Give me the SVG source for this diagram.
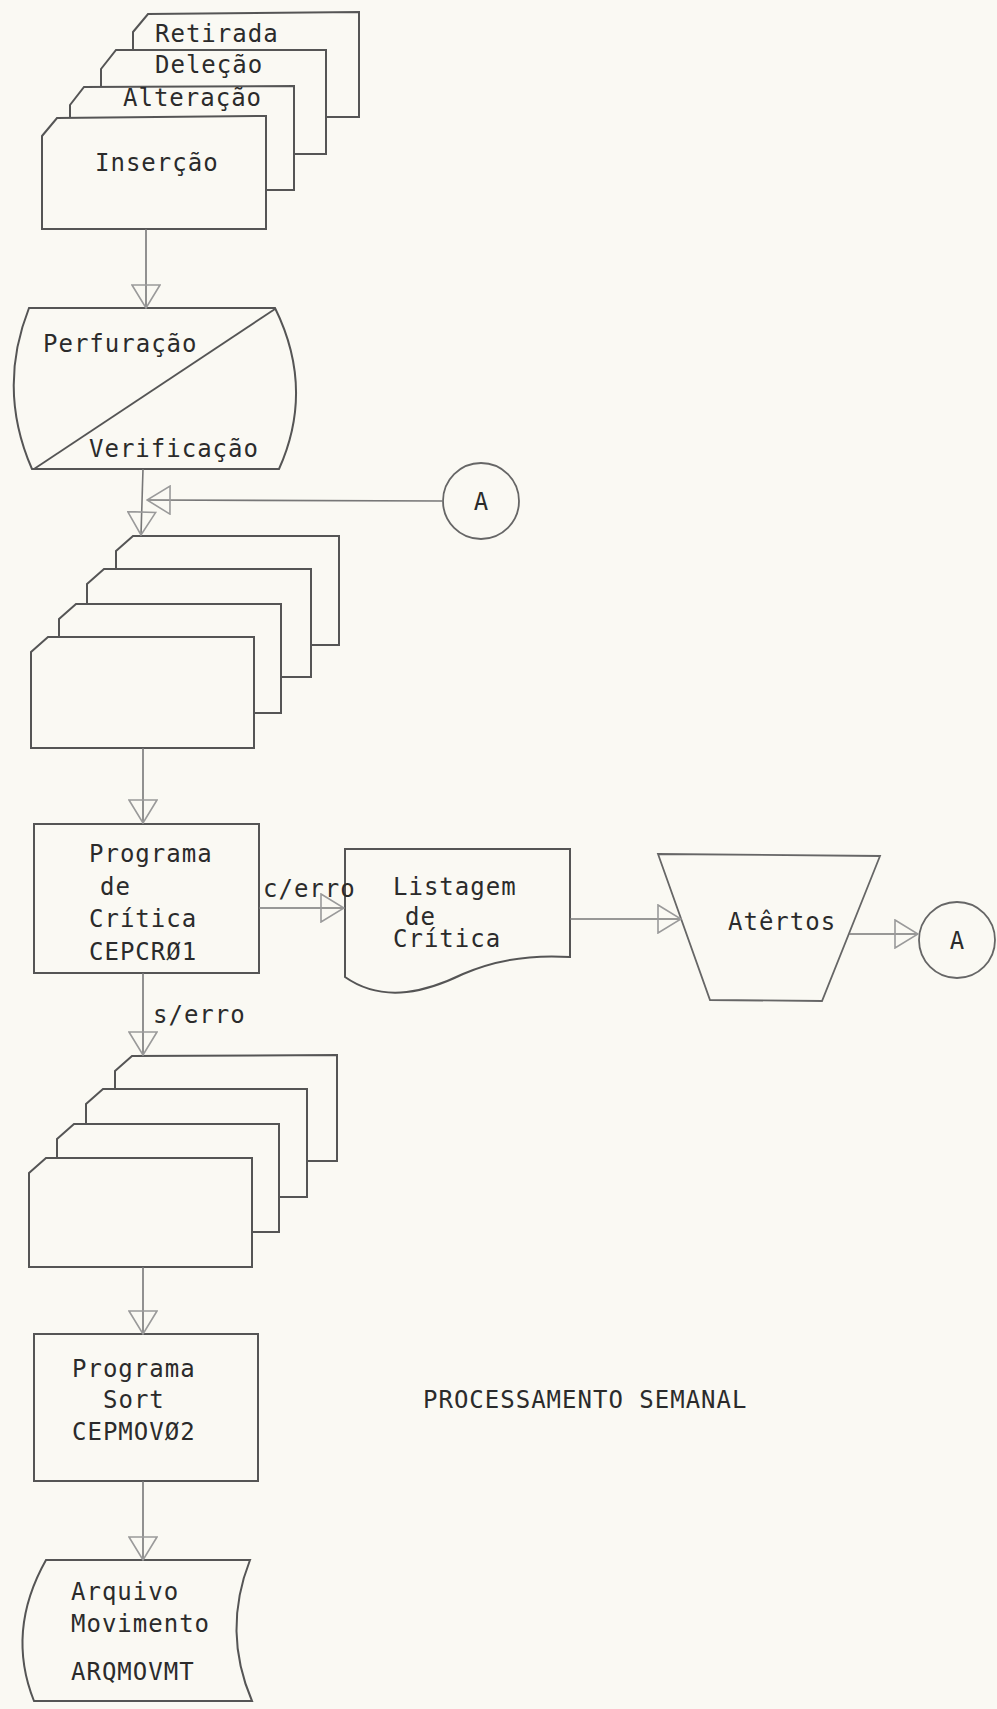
<svg xmlns="http://www.w3.org/2000/svg" width="997" height="1709" viewBox="0 0 997 1709">
<defs>
<style>
.bg{fill:#faf9f3}
.s{fill:#faf9f3;stroke:#555;stroke-width:2;stroke-linejoin:miter}
.ln{fill:none;stroke:#777;stroke-width:1.6}
.t{font-family:"DejaVu Sans Mono","Liberation Mono",monospace;font-size:24px;fill:#2b2b2b;letter-spacing:1px}
.lbl{font-family:"DejaVu Sans Mono","Liberation Mono",monospace;font-size:24px;fill:#2b2b2b;letter-spacing:1px}
.c{text-anchor:middle;letter-spacing:0}
</style>
<marker id="ah" viewBox="0 0 25 30" refX="24" refY="15" markerWidth="25" markerHeight="30" markerUnits="userSpaceOnUse" orient="auto">
<path d="M1,1 L24,15 L1,29 Z" fill="none" stroke="#9a9a9a" stroke-width="1.6"/>
</marker>
</defs>
<rect class="bg" x="0" y="0" width="997" height="1709"/>

<g id="cards-input">
<path class="s" d="M133,32 L148,14 L359,12 L359,117 L133,117 Z"/>
<text class="t" x="155" y="42">Retirada</text>
<path class="s" d="M101,69 L116,50 L326,50 L326,154 L101,154 Z"/>
<text class="t" x="155" y="73">Deleção</text>
<path class="s" d="M70,105 L84,87 L294,86 L294,190 L70,190 Z"/>
<text class="t" x="123" y="106">Alteração</text>
<path class="s" d="M42,136 L57,118 L266,116 L266,229 L42,229 Z"/>
<text class="t" x="95" y="171">Inserção</text>
</g>

<g id="perfuracao">
<path class="s" d="M29,308 L275,308 Q315,389 279,469 L32,469 Q-3,389 29,308 Z"/>
<path class="ln" d="M34,469 L275,309" style="stroke:#555;stroke-width:1.8"/>
<text class="t" x="43" y="352">Perfuração</text>
<text class="t" x="89" y="457">Verificação</text>
</g>

<g id="connector-a-in">
<circle class="s" cx="481" cy="501" r="38" style="stroke:#666;stroke-width:1.8"/>
<text class="t c" x="481" y="510">A</text>
</g>

<g id="cards-punched">
<path class="s" d="M116,551 L133,536 L339,536 L339,645 L116,645 Z"/>
<path class="s" d="M87,584 L104,569 L311,569 L311,677 L87,677 Z"/>
<path class="s" d="M59,619 L76,604 L281,604 L281,713 L59,713 Z"/>
<path class="s" d="M31,652 L48,637 L254,637 L254,748 L31,748 Z"/>
</g>

<g id="programa-critica">
<rect class="s" x="34" y="824" width="225" height="149"/>
<text class="t" x="89" y="862">Programa</text>
<text class="t" x="100" y="895">de</text>
<text class="t" x="89" y="927">Crítica</text>
<text class="t" x="89" y="960">CEPCRØ1</text>
</g>

<g id="listagem">
<path class="s" d="M345,849 L570,849 L570,957 C540,955 500,958 463,974 C430,990 385,1005 345,977 Z"/>
<text class="t" x="393" y="895">Listagem</text>
<text class="t" x="405" y="925">de</text>
<text class="t" x="393" y="947">Crítica</text>
</g>

<g id="acertos">
<path class="s" d="M658,854 L880,856 L822,1001 L710,1000 Z" style="stroke:#666;stroke-width:1.8"/>
<text class="t" x="728" y="930">Atêrtos</text>
</g>

<g id="connector-a-out">
<circle class="s" cx="957" cy="940" r="38" style="stroke:#666;stroke-width:1.8"/>
<text class="t c" x="957" y="949">A</text>
</g>

<g id="cards-valid">
<path class="s" d="M115,1071 L132,1056 L337,1055 L337,1161 L115,1161 Z"/>
<path class="s" d="M86,1104 L103,1089 L307,1089 L307,1197 L86,1197 Z"/>
<path class="s" d="M57,1139 L74,1124 L279,1124 L279,1232 L57,1232 Z"/>
<path class="s" d="M29,1173 L46,1158 L252,1158 L252,1267 L29,1267 Z"/>
</g>

<g id="programa-sort">
<rect class="s" x="34" y="1334" width="224" height="147"/>
<text class="t" x="72" y="1377">Programa</text>
<text class="t" x="103" y="1408">Sort</text>
<text class="t" x="72" y="1440">CEPMOVØ2</text>
</g>

<g id="arquivo">
<path class="s" d="M46,1560 L250,1560 Q222,1631 252,1701 L34,1701 Q6,1631 46,1560 Z"/>
<text class="t" x="71" y="1600">Arquivo</text>
<text class="t" x="71" y="1632">Movimento</text>
<text class="t" x="71" y="1680">ARQMOVMT</text>
</g>

<g id="title">
<text class="t" x="423" y="1408">PROCESSAMENTO SEMANAL</text>
</g>

<g id="connectors">
<path class="ln" d="M146,229 L146,308" marker-end="url(#ah)"/>
<path class="ln" d="M143,469 L141,535" marker-end="url(#ah)"/>
<path class="ln" d="M443,501 L147,500" marker-end="url(#ah)"/>
<path class="ln" d="M143,748 L143,823" marker-end="url(#ah)"/>
<path class="ln" d="M259,908 L344,908" marker-end="url(#ah)"/>
<text class="lbl" x="263" y="897">c/erro</text>
<path class="ln" d="M570,919 L681,919" marker-end="url(#ah)"/>
<path class="ln" d="M849,934 L918,934" marker-end="url(#ah)"/>
<path class="ln" d="M143,973 L143,1055" marker-end="url(#ah)"/>
<text class="lbl" x="153" y="1023">s/erro</text>
<path class="ln" d="M143,1267 L143,1334" marker-end="url(#ah)"/>
<path class="ln" d="M143,1481 L143,1560" marker-end="url(#ah)"/>
</g>
</svg>
